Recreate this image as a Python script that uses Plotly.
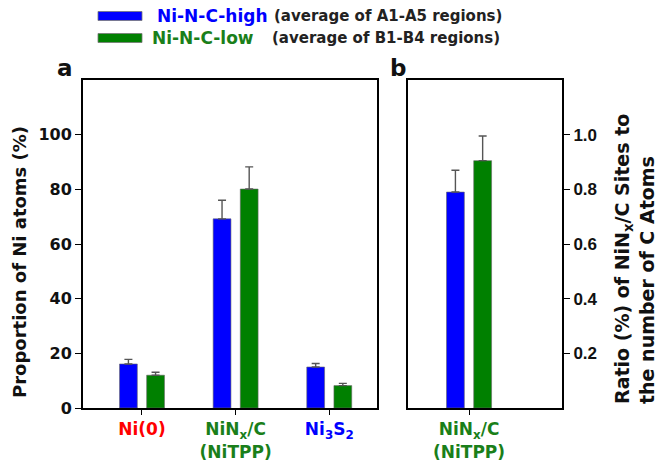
import plotly.graph_objects as go

# ---- data ----
categories_a = ["Ni(0)", "NiNx/C (NiTPP)", "Ni3S2"]
tick_text_a = ['<span style="color:#ff0000">Ni(0)</span>',
               '<span style="color:#1a7f1a">NiN<sub>x</sub>/C<br>(NiTPP)</span>',
               '<span style="color:#0000ff">Ni<sub>3</sub>S<sub>2</sub></span>']
high_a = [16.1, 69.2, 15.0]
high_a_err = [1.7, 6.8, 1.3]
low_a = [12.0, 80.1, 8.2]
low_a_err = [1.1, 8.1, 0.8]

categories_b = ["NiNx/C (NiTPP)"]
tick_text_b = ['<span style="color:#1a7f1a">NiN<sub>x</sub>/C<br>(NiTPP)</span>']
high_b = [0.79]
high_b_err = [0.08]
low_b = [0.905]
low_b_err = [0.09]

series_names = ["Ni-N-C-high", "Ni-N-C-low"]
series_notes = ["(average of A1-A5 regions)", "(average of B1-B4 regions)"]
left_title = "Proportion of Ni atoms (%)"
right_title = "Ratio (%) of NiN<sub>x</sub>/C Sites to<br>the number of C Atoms"

BLUE = "#0000ff"
GREEN = "#008000"
ERR = "#555555"
WIDE = "DejaVu Sans, sans-serif"
NARROW = "Liberation Sans, Arial, sans-serif"

xa = list(range(len(categories_a)))
xb = list(range(len(categories_b)))

fig = go.Figure()

def bar(x, y, err, color, xaxis, yaxis, offset, name):
    return go.Bar(
        x=x, y=y, width=0.19, offset=offset, name=name,
        marker=dict(color=color, line=dict(color="#666666", width=0.6)),
        error_y=dict(type="data", symmetric=False, array=err,
                     arrayminus=[0] * len(err), color=ERR, thickness=1.4, width=4),
        xaxis=xaxis, yaxis=yaxis, showlegend=False,
    )

fig.add_trace(bar(xa, high_a, high_a_err, BLUE, "x", "y", -0.24, series_names[0]))
fig.add_trace(bar(xa, low_a, low_a_err, GREEN, "x", "y", 0.05, series_names[1]))
fig.add_trace(bar(xb, high_b, high_b_err, BLUE, "x2", "y2", -0.24, series_names[0]))
fig.add_trace(bar(xb, low_b, low_b_err, GREEN, "x2", "y2", 0.05, series_names[1]))

# the page body has an 8px margin: figure is 8px smaller and offset
OFF = 8
W, H = 664 - OFF, 468 - OFF

def px(x, y):
    return (x - OFF) / W, 1 - (y - OFF) / H

def pxx(x):
    return (x - OFF) / W

ya_dom = [1 - (408 - OFF) / H, 1 - (80 - OFF) / H]

common = dict(showline=True, linecolor="black", linewidth=2, mirror=True,
              ticks="outside", tickcolor="black", showgrid=False,
              zeroline=False, automargin=False)

fig.update_layout(
    width=W, height=H, margin=dict(l=0, r=0, t=0, b=0, autoexpand=False),
    paper_bgcolor="white", plot_bgcolor="white",
    barmode="overlay",
    font=dict(family=WIDE, color="#111111"),
    xaxis=dict(domain=[pxx(83), pxx(377)], range=[-0.63, 2.51],
               tickvals=xa, ticktext=tick_text_a, ticklen=5,
               tickfont=dict(family=WIDE, size=17, weight="bold"),
               anchor="y", **common),
    yaxis=dict(domain=ya_dom, range=[0, 120],
               tickvals=[0, 20, 40, 60, 80, 100], ticklen=6,
               tickfont=dict(family=WIDE, size=16, color="#111111", weight="bold"),
               anchor="x", **common),
    xaxis2=dict(domain=[pxx(408), pxx(562)], range=[-0.65, 0.99],
                tickvals=xb, ticktext=tick_text_b, ticklen=5,
                tickfont=dict(family=WIDE, size=17, weight="bold"),
                anchor="y2", **common),
    yaxis2=dict(domain=ya_dom, range=[0, 1.2], side="right",
                tickvals=[0.2, 0.4, 0.6, 0.8, 1.0],
                ticktext=["0.2", "0.4", "0.6", "0.8", "1.0"], ticklen=6,
                tickfont=dict(family=NARROW, size=17, color="#111111", weight="bold"),
                anchor="x2", **common),
)

# axis titles
x0, y0 = px(19, 262)
fig.add_annotation(xref="paper", yref="paper", x=x0, y=y0, xanchor="center", yanchor="middle",
                   text=left_title, textangle=-90, showarrow=False,
                   font=dict(family=WIDE, size=18, color="#111111", weight="bold"))
x0, y0 = px(635, 259)
fig.add_annotation(xref="paper", yref="paper", x=x0, y=y0, xanchor="center", yanchor="middle",
                   text=right_title, textangle=-90, showarrow=False, align="left",
                   font=dict(family=WIDE, size=19, color="#111111", weight="bold"))

# manual legend
legend_rows = [(16, BLUE, "#0000ff", 155, 272), (38, GREEN, "#1a7f1a", 150, 270)]
for i, (yc, col, tcol, xn, xnote) in enumerate(legend_rows):
    xa0, ya0 = px(98, yc + 4.5)
    xa1, ya1 = px(142, yc - 4.5)
    fig.add_shape(type="rect", xref="paper", yref="paper",
                  x0=xa0, x1=xa1, y0=ya0, y1=ya1,
                  fillcolor=col, line=dict(color="#777777", width=0.8))
    x0, y0 = px(xn, yc)
    fig.add_annotation(xref="paper", yref="paper", x=x0, y=y0,
                       xanchor="left", yanchor="middle",
                       text=series_names[i], showarrow=False,
                       font=dict(family=WIDE, size=17, color=tcol, weight="bold"))
    x0, y0 = px(xnote, yc)
    fig.add_annotation(xref="paper", yref="paper", x=x0, y=y0,
                       xanchor="left", yanchor="middle",
                       text=series_notes[i], showarrow=False,
                       font=dict(family=WIDE, size=15, color="#222222", weight="bold"))

# panel labels
for lbl, lx in [("a", 65), ("b", 398)]:
    x0, y0 = px(lx, 83)
    fig.add_annotation(xref="paper", yref="paper", x=x0, y=y0,
                       xanchor="center", yanchor="bottom", text=lbl, showarrow=False,
                       font=dict(family=WIDE, size=23, color="#111111", weight="bold"))

fig.write_html("out.html")
